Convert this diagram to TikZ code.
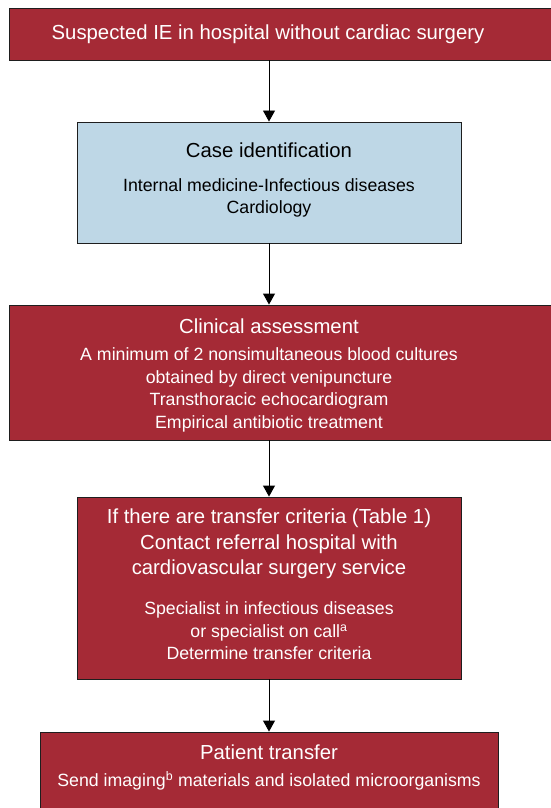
\documentclass[tikz,border=0pt]{standalone}
\usepackage{fontspec}
\setmainfont{Liberation Sans}
\usetikzlibrary{arrows.meta}
\definecolor{boxred}{HTML}{A52A36}
\definecolor{boxblue}{HTML}{BED7E6}
\definecolor{edgecol}{HTML}{1E1E1E}
\begin{document}
\begin{tikzpicture}[x=1bp,y=-1bp,
  boxbase/.style={draw=edgecol, line width=0.9bp, inner sep=0pt, rectangle},
  redbox/.style={boxbase, fill=boxred},
  bluebox/.style={boxbase, fill=boxblue},
  headfont/.style={font=\fontsize{20.4}{25.5}\selectfont, align=center, inner sep=0pt},
  subfont/.style={font=\fontsize{17.8}{22.5}\selectfont, align=center, inner sep=0pt},
  onred/.style={text=white},
  onblue/.style={text=black},
  arr/.style={draw=black, line width=0.9bp, -{Triangle[length=11bp,width=12bp]}}
]
\useasboundingbox (0,0) rectangle (551,808);
\clip (0,0) rectangle (551,808);
% boxes
\node[redbox, minimum width=551bp, minimum height=52bp] (b1) at (284.5,34) {};
\node[bluebox, minimum width=384bp, minimum height=121bp] (b2) at (269,182.5) {};
\node[redbox, minimum width=551bp, minimum height=135bp] (b3) at (284.5,372.5) {};
\node[redbox, minimum width=384bp, minimum height=182bp] (b4) at (269,588) {};
\node[redbox, minimum width=458bp, minimum height=83bp] (b5) at (269,773.5) {};
% texts
\node[headfont, onred] (t1) at (268,34) {Suspected IE in hospital without cardiac surgery};
\node[headfont, onblue] (t2h) at (269,150) {Case identification};
\node[subfont, onblue] (t2s) at (269,198) {Internal medicine-Infectious diseases\\Cardiology};
\node[headfont, onred] (t3h) at (269,326) {Clinical assessment};
\node[subfont, onred] (t3s) at (269,390) {A minimum of 2 nonsimultaneous blood cultures\\obtained by direct venipuncture\\Transthoracic echocardiogram\\Empirical antibiotic treatment};
\node[headfont, onred] (t4h) at (269,544) {If there are transfer criteria (Table 1)\\Contact referral hospital with\\cardiovascular surgery service};
\node[subfont, onred] (t4s) at (269,631) {Specialist in infectious diseases\\or specialist on call\textsuperscript{a}\\Determine transfer criteria};
\node[headfont, onred] (t5h) at (269,752) {Patient transfer};
\node[subfont, onred] (t5s) at (269,781) {Send imaging\textsuperscript{b} materials and isolated microorganisms};
% connectors
\draw[arr] (b1.south -| b2.north) -- (b2.north);
\draw[arr] (b2.south) -- (b2.south |- b3.north);
\draw[arr] (b3.south -| b4.north) -- (b4.north);
\draw[arr] (b4.south) -- (b5.north);
\end{tikzpicture}
\end{document}
